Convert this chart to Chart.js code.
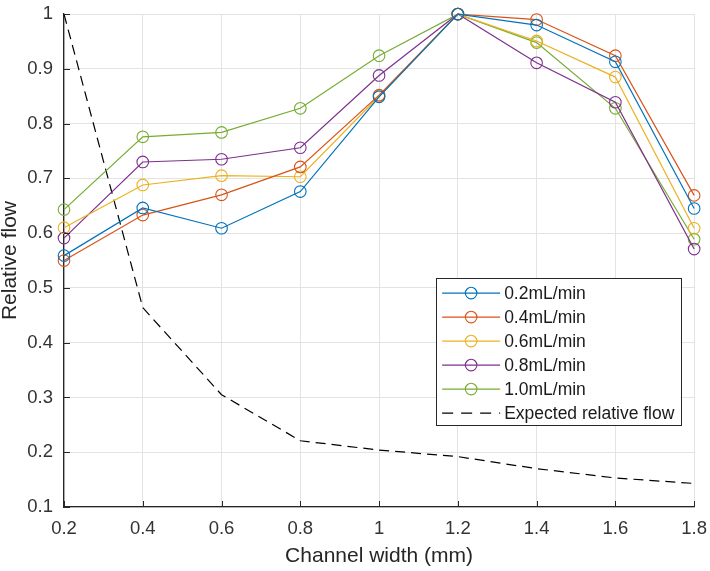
<!DOCTYPE html>
<html>
<head>
<meta charset="utf-8">
<script src="https://cdn.jsdelivr.net/npm/chart.js@4.4.1/dist/chart.umd.min.js"></script>
<style>
  html, body { margin: 0; padding: 0; background: #fff; }
  #wrap { width: 710px; height: 571px; }
</style>
</head>
<body>
<div id="wrap"><canvas id="flowChart" width="710" height="571"></canvas></div>
<script>
// channel widths (mm) and relative flow per flow rate
var widths = [0.2, 0.4, 0.6, 0.8, 1.0, 1.2, 1.4, 1.6, 1.8]
var flow02 = [0.559, 0.646, 0.609, 0.676, 0.849, 1.0, 0.980, 0.913, 0.645]
var flow04 = [0.550, 0.633, 0.670, 0.721, 0.852, 1.0, 0.990, 0.924, 0.669]
var flow06 = [0.610, 0.688, 0.705, 0.703, 0.850, 1.0, 0.951, 0.885, 0.609]
var flow08 = [0.591, 0.730, 0.735, 0.756, 0.888, 1.0, 0.911, 0.839, 0.571]
var flow10 = [0.643, 0.776, 0.784, 0.828, 0.924, 1.0, 0.948, 0.828, 0.589]
var expected = [1.0, 0.464, 0.305, 0.221, 0.204, 0.192, 0.170, 0.153, 0.143]

var seriesLabels = ['0.2mL/min', '0.4mL/min', '0.6mL/min', '0.8mL/min', '1.0mL/min', 'Expected relative flow']
var xTickValues = [0.2, 0.4, 0.6, 0.8, 1.0, 1.2, 1.4, 1.6, 1.8]
var xTickLabels = ['0.2', '0.4', '0.6', '0.8', '1', '1.2', '1.4', '1.6', '1.8']
var yTickValues = [0.1, 0.2, 0.3, 0.4, 0.5, 0.6, 0.7, 0.8, 0.9, 1.0]
var yTickLabels = ['0.1', '0.2', '0.3', '0.4', '0.5', '0.6', '0.7', '0.8', '0.9', '1']

var colors = ['#0072BD', '#D95319', '#EDB120', '#7E2F8E', '#77AC30']
var axisColor = '#262626'
var font = 'Liberation Sans, Arial, Helvetica, sans-serif'

function pts(ys) {
  return ys.map(function (y, i) { return {x: widths[i], y: y} })
}

function measured(label, ys, color) {
  return {
    label: label,
    data: pts(ys),
    borderColor: color,
    backgroundColor: color,
    borderWidth: 1.2,
    pointRadius: 5.8,
    pointHoverRadius: 5.8,
    pointBorderWidth: 1.1,
    pointBackgroundColor: 'rgba(0,0,0,0)',
    pointBorderColor: color,
    tension: 0,
    clip: false
  }
}

// inward tick marks, MATLAB style
var innerTicks = {
  id: 'innerTicks',
  afterDraw: function (chart) {
    var ctx = chart.ctx, a = chart.chartArea
    var xs = chart.scales.x, ys = chart.scales.y
    ctx.save()
    ctx.strokeStyle = axisColor
    ctx.lineWidth = 1
    ctx.beginPath()
    xTickValues.forEach(function (v) {
      var px = Math.round(xs.getPixelForValue(v)) + 0.5
      ctx.moveTo(px, a.bottom)
      ctx.lineTo(px, a.bottom - 6)
    })
    yTickValues.forEach(function (v) {
      var py = Math.round(ys.getPixelForValue(v)) + 0.5
      ctx.moveTo(a.left, py)
      ctx.lineTo(a.left + 6, py)
    })
    ctx.stroke()
    ctx.restore()
  }
}

// boxed legend inside the plot
var boxLegend = {
  id: 'boxLegend',
  afterDraw: function (chart) {
    var ctx = chart.ctx, a = chart.chartArea
    var left = a.right - 258, top = a.top + 264
    var w = 245, h = 147, row = 24
    ctx.save()
    ctx.fillStyle = '#fff'
    ctx.fillRect(left, top, w, h)
    ctx.strokeStyle = axisColor
    ctx.lineWidth = 1
    ctx.strokeRect(Math.round(left) + 0.5, Math.round(top) + 0.5, w, h)
    ctx.font = '17.5px ' + font
    ctx.textBaseline = 'middle'
    chart.data.datasets.forEach(function (ds, i) {
      var y = top + 15 + i * row
      ctx.strokeStyle = ds.borderColor
      ctx.lineWidth = ds.borderWidth
      ctx.setLineDash(ds.borderDash ? [11, 8] : [])
      ctx.beginPath()
      ctx.moveTo(left + 6, y)
      ctx.lineTo(left + 64, y)
      ctx.stroke()
      ctx.setLineDash([])
      if (ds.pointRadius > 0) {
        ctx.lineWidth = ds.pointBorderWidth
        ctx.beginPath()
        ctx.arc(left + 35, y, ds.pointRadius, 0, Math.PI * 2)
        ctx.stroke()
      }
      ctx.fillStyle = '#1a1a1a'
      ctx.fillText(ds.label, left + 68, y + 1)
    })
    ctx.restore()
  }
}

var datasets = [
  measured(seriesLabels[0], flow02, colors[0]),
  measured(seriesLabels[1], flow04, colors[1]),
  measured(seriesLabels[2], flow06, colors[2]),
  measured(seriesLabels[3], flow08, colors[3]),
  measured(seriesLabels[4], flow10, colors[4]),
  {
    label: seriesLabels[5],
    data: pts(expected),
    borderColor: '#000',
    borderWidth: 1.2,
    borderDash: [10, 6],
    pointRadius: 0,
    tension: 0,
    clip: false
  }
]

var ctx = document.getElementById('flowChart').getContext('2d')
var flowChart = new Chart(ctx, {
  type: 'line',
  data: {datasets: datasets},
  plugins: [innerTicks, boxLegend],
  options: {
    responsive: false,
    animation: false,
    events: [],
    layout: {padding: {left: 0, right: 14, top: 8, bottom: 0}},
    plugins: {
      legend: {display: false},
      tooltip: {enabled: false}
    },
    scales: {
      x: {
        type: 'linear',
        min: 0.2,
        max: 1.8,
        afterFit: function (s) { s.height = 64 },
        afterBuildTicks: function (s) { s.ticks = xTickValues.map(function (v) { return {value: v} }) },
        ticks: {
          color: '#333',
          font: {family: font, size: 18.5},
          padding: 3,
          maxRotation: 0,
          callback: function (v, i) { return xTickLabels[i] }
        },
        grid: {color: '#e3e3e3', tickColor: 'rgba(0,0,0,0)', tickLength: 8},
        border: {display: true, color: axisColor, width: 1.3},
        title: {
          display: true,
          text: 'Channel width (mm)',
          color: '#262626',
          font: {family: font, size: 21, lineHeight: 1},
          padding: {top: 4, bottom: 4}
        }
      },
      y: {
        type: 'linear',
        min: 0.1,
        max: 1.0,
        afterFit: function (s) { s.width = 64 },
        afterBuildTicks: function (s) { s.ticks = yTickValues.map(function (v) { return {value: v} }) },
        ticks: {
          color: '#333',
          font: {family: font, size: 18.5},
          padding: 3,
          callback: function (v, i) { return yTickLabels[i] }
        },
        grid: {color: '#e3e3e3', tickColor: 'rgba(0,0,0,0)', tickLength: 8},
        border: {display: true, color: axisColor, width: 1.3},
        title: {
          display: true,
          text: 'Relative flow',
          color: '#262626',
          font: {family: font, size: 21, lineHeight: 1},
          padding: {top: 0, bottom: 0}
        }
      }
    }
  }
})
</script>
</body>
</html>
